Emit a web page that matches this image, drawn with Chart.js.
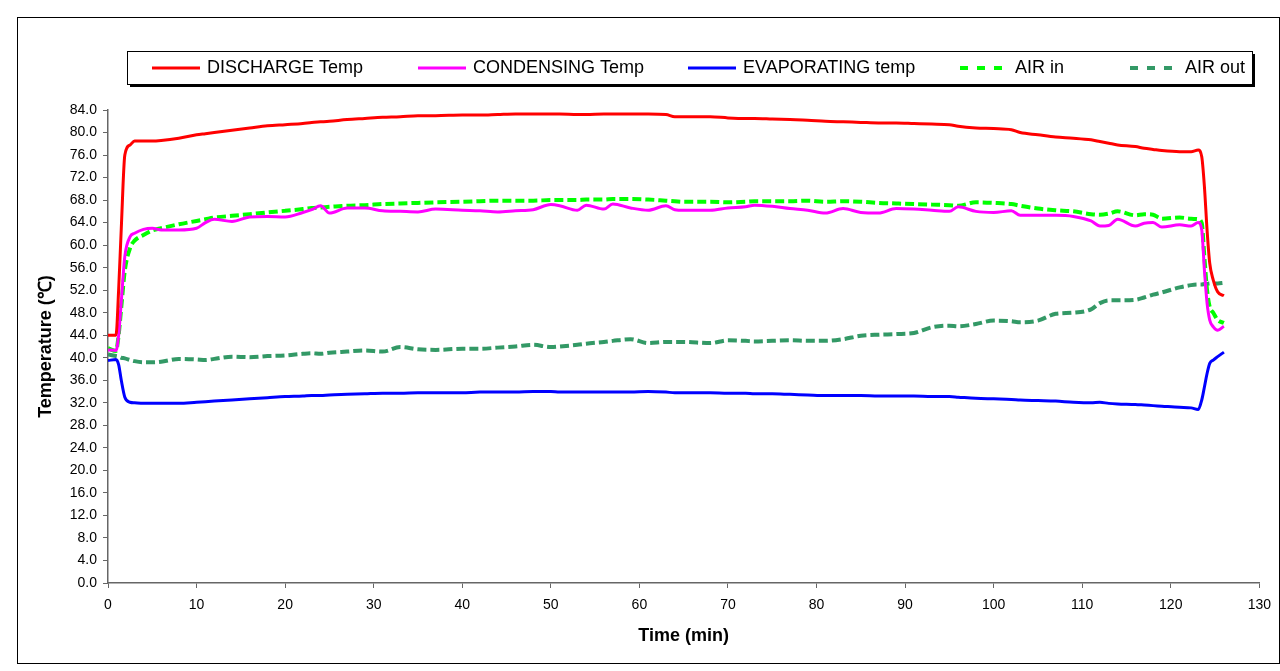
<!DOCTYPE html>
<html>
<head>
<meta charset="utf-8">
<script src="https://cdn.jsdelivr.net/npm/chart.js@4.4.0/dist/chart.umd.min.js"></script>
<style>
  html, body { margin: 0; padding: 0; background: #fff; }
</style>
</head>
<body>
<canvas id="tempChart" width="1280" height="671"></canvas>
<script>
// time axis (min) shared by all series
const timeMin = [0, 0.9, 1.2, 1.5, 1.9, 2.5, 3, 4, 5, 6, 8, 10, 11, 12, 14, 16, 18, 20, 22, 23,
  24, 25, 27, 29, 31, 33, 35, 37, 40, 42, 44, 46, 48, 50, 51, 53, 54, 56, 57, 59,
  61, 63, 64, 65, 68, 70, 72, 73, 75, 77, 79, 81, 83, 85, 87, 89, 91, 93, 95, 96,
  98, 100, 102, 103, 105, 107, 109, 111, 112, 113, 114, 116, 117, 118, 119, 121, 122.3, 123.1, 123.5, 123.8,
  124.1, 124.4, 124.8, 125.3, 126.0];

const dischargeTemp = [44.0, 44.0, 52, 63, 76.0, 77.8, 78.5, 78.5, 78.5, 78.6, 79.0, 79.6, 79.8, 80.0, 80.4, 80.8, 81.2, 81.4, 81.6, 81.8,
  81.9, 82.0, 82.3, 82.5, 82.7, 82.8, 83.0, 83.0, 83.1, 83.1, 83.2, 83.3, 83.3, 83.3, 83.3, 83.2, 83.2, 83.3, 83.3, 83.3,
  83.3, 83.2, 82.8, 82.8, 82.8, 82.6, 82.5, 82.5, 82.4, 82.3, 82.2, 82.0, 81.9, 81.8, 81.7, 81.7, 81.6, 81.5, 81.4, 81.1,
  80.8, 80.7, 80.5, 80.0, 79.6, 79.2, 79.0, 78.7, 78.4, 78.1, 77.8, 77.5, 77.2, 77.0, 76.8, 76.6, 76.6, 76.9, 75.7, 70.4,
  62.7, 56.8, 53.8, 51.7, 51.0];

const condensingTemp = [41.4, 41.3, 44, 50, 58.0, 61.5, 62.1, 62.8, 63.0, 62.7, 62.7, 63.0, 64.0, 64.6, 64.2, 65.0, 65.1, 65.0, 65.8, 66.3,
  67.0, 65.7, 66.6, 66.6, 66.1, 66.0, 65.9, 66.4, 66.2, 66.1, 65.9, 66.1, 66.3, 67.2, 67.0, 66.2, 67.1, 66.4, 67.3, 66.6,
  66.2, 67.0, 66.3, 66.2, 66.2, 66.6, 66.8, 67.1, 66.9, 66.5, 66.2, 65.7, 66.5, 65.8, 65.7, 66.5, 66.4, 66.2, 66.0, 66.8,
  66.0, 65.8, 66.1, 65.3, 65.3, 65.3, 65.1, 64.3, 63.4, 63.5, 64.6, 63.4, 63.9, 64.0, 63.2, 63.6, 63.4, 64.0, 62.7, 55.6,
  49.7, 46.7, 45.5, 44.9, 45.6];

const evaporatingTemp = [39.5, 39.7, 38.8, 36, 33.0, 32.1, 32.0, 31.9, 31.9, 31.9, 31.9, 32.1, 32.2, 32.3, 32.5, 32.7, 32.9, 33.1, 33.2, 33.3,
  33.3, 33.4, 33.5, 33.6, 33.7, 33.7, 33.8, 33.8, 33.8, 33.9, 33.9, 33.9, 34.0, 34.0, 33.9, 33.9, 33.9, 33.9, 33.9, 33.9,
  34.0, 33.9, 33.8, 33.8, 33.8, 33.7, 33.7, 33.6, 33.6, 33.5, 33.4, 33.3, 33.3, 33.3, 33.2, 33.2, 33.2, 33.1, 33.1, 33.0,
  32.8, 32.7, 32.6, 32.5, 32.4, 32.3, 32.1, 32.0, 32.1, 31.9, 31.8, 31.7, 31.6, 31.5, 31.4, 31.2, 31.1, 30.8, 32.5, 34.8,
  37.2, 39.0, 39.6, 40.2, 41.0];

const airIn = [41.7, 41.2, 44, 49, 55.5, 59.5, 60.8, 61.8, 62.6, 63.0, 63.7, 64.3, 64.6, 64.9, 65.2, 65.5, 65.8, 66.1, 66.4, 66.6,
  66.7, 66.8, 67.0, 67.1, 67.3, 67.4, 67.5, 67.6, 67.7, 67.8, 67.9, 67.9, 67.9, 68.0, 68.0, 68.0, 68.1, 68.1, 68.2, 68.2,
  68.1, 67.9, 67.8, 67.7, 67.7, 67.6, 67.7, 67.8, 67.8, 67.8, 67.9, 67.7, 67.8, 67.7, 67.5, 67.4, 67.3, 67.2, 67.1, 67.0,
  67.6, 67.5, 67.3, 67.0, 66.5, 66.2, 66.0, 65.5, 65.4, 65.6, 66.0, 65.3, 65.5, 65.4, 64.7, 64.9, 64.7, 64.6, 63.9, 57.8,
  52.0, 49.0, 48.0, 46.7, 46.2];

const airOut = [40.6, 40.3, 40.2, 40.0, 39.9, 39.6, 39.4, 39.2, 39.2, 39.3, 39.8, 39.7, 39.6, 39.8, 40.2, 40.1, 40.3, 40.4, 40.7, 40.8,
  40.7, 40.9, 41.1, 41.3, 41.1, 41.9, 41.5, 41.4, 41.6, 41.6, 41.8, 42.0, 42.3, 41.9, 42.0, 42.3, 42.5, 42.8, 43.0, 43.3,
  42.6, 42.8, 42.8, 42.8, 42.6, 43.1, 43.0, 42.9, 43.0, 43.1, 43.0, 43.0, 43.3, 43.9, 44.1, 44.2, 44.4, 45.4, 45.7, 45.6,
  46.0, 46.6, 46.5, 46.3, 46.6, 47.8, 48.0, 48.6, 49.7, 50.2, 50.2, 50.3, 50.7, 51.2, 51.6, 52.5, 52.9, 53.0, 53.0, 53.1,
  53.1, 53.2, 53.2, 53.2, 53.3];

const seriesLabels = ['DISCHARGE Temp', 'CONDENSING Temp', 'EVAPORATING temp', 'AIR in', 'AIR out'];
const seriesColors = ['#ff0000', '#ff00ff', '#0000ff', '#00ff00', '#339966'];
const seriesValues = [dischargeTemp, condensingTemp, evaporatingTemp, airIn, airOut];
const seriesDashed = [false, false, false, true, true];

const FONT = '"Liberation Sans", Arial, sans-serif';

function toPoints(values) {
    return timeMin.map((t, i) => ({ x: t, y: values[i] }));
}

const datasets = seriesLabels.map((label, i) => ({
    label: label,
    data: toPoints(seriesValues[i]),
    borderColor: seriesColors[i],
    backgroundColor: seriesColors[i],
    borderWidth: seriesDashed[i] ? 4 : 3,
    borderDash: seriesDashed[i] ? [9, 4] : [],
    pointRadius: 0,
    fill: false,
    cubicInterpolationMode: 'monotone'
}));

// Excel style legend box with shadow + outer frame
const legendBox = {
    id: 'legendBox',
    afterDraw(chart) {
        const ctx = chart.ctx;
        ctx.save();
        // outer frame
        ctx.strokeStyle = '#000';
        ctx.lineWidth = 1;
        ctx.strokeRect(17.5, 17.5, 1262, 646);

        // legend box
        ctx.fillStyle = '#000';
        ctx.fillRect(130, 54, 1125, 33);
        ctx.fillStyle = '#fff';
        ctx.fillRect(127, 51, 1125, 33);
        ctx.strokeRect(127.5, 51.5, 1125, 33);

        const starts = [152, 418, 688, 960, 1130];
        const y = 68;
        ctx.font = '18px ' + FONT;
        ctx.textBaseline = 'middle';
        ctx.textAlign = 'left';
        chart.data.datasets.forEach((ds, i) => {
            ctx.beginPath();
            ctx.strokeStyle = ds.borderColor;
            ctx.lineWidth = ds.borderWidth;
            ctx.setLineDash(seriesDashed[i] ? [8, 9] : []);
            ctx.moveTo(starts[i], y);
            ctx.lineTo(starts[i] + 48, y);
            ctx.stroke();
            ctx.setLineDash([]);
            ctx.fillStyle = '#000';
            ctx.fillText(ds.label, starts[i] + 55, y);
        });
        ctx.restore();
    }
};

const config = {
    type: 'line',
    data: { datasets: datasets },
    options: {
        responsive: false,
        animation: false,
        devicePixelRatio: 1,
        layout: {
            padding: { left: 35, right: 18, top: 110, bottom: 18 }
        },
        plugins: {
            legend: { display: false },
            tooltip: { enabled: false }
        },
        scales: {
            x: {
                type: 'linear',
                min: 0,
                max: 130,
                afterFit: function(scale) { scale.height = 70; },
                ticks: {
                    stepSize: 10,
                    color: '#000',
                    padding: 9,
                    font: { family: FONT, size: 14 }
                },
                grid: {
                    drawOnChartArea: false,
                    drawTicks: true,
                    tickLength: 5,
                    color: '#666'
                },
                border: { color: '#666', width: 1.5 },
                title: {
                    display: true,
                    text: 'Time (min)',
                    color: '#000',
                    padding: { top: 0, bottom: 6 },
                    font: { family: FONT, size: 18, weight: 'bold' }
                }
            },
            y: {
                min: 0,
                max: 84,
                afterFit: function(scale) { scale.width = 73; },
                ticks: {
                    stepSize: 4,
                    color: '#000',
                    padding: 6,
                    font: { family: FONT, size: 14 },
                    callback: function(value) { return value.toFixed(1); }
                },
                grid: {
                    drawOnChartArea: false,
                    drawTicks: true,
                    tickLength: 5,
                    color: '#666'
                },
                border: { color: '#666', width: 1.5 },
                title: {
                    display: true,
                    text: 'Temperature (℃)',
                    color: '#000',
                    padding: { top: 0, bottom: 0 },
                    font: { family: FONT, size: 18, weight: 'bold' }
                }
            }
        }
    },
    plugins: [legendBox]
};

const ctx = document.getElementById('tempChart');
if (ctx) {
    new Chart(ctx.getContext('2d'), config);
}
</script>
</body>
</html>
